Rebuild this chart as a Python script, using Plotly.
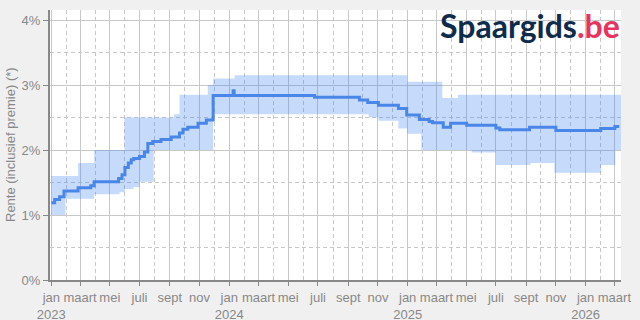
import plotly.graph_objects as go

# ---- data ----
line_dates = ["2023-01-01", "2023-01-08", "2023-01-18", "2023-01-27", "2023-02-25", "2023-03-23",
              "2023-03-30", "2023-05-19", "2023-05-26", "2023-06-01", "2023-06-08", "2023-06-14",
              "2023-06-19", "2023-07-01", "2023-07-11", "2023-07-18", "2023-07-28", "2023-08-14",
              "2023-09-04", "2023-09-21", "2023-09-28", "2023-10-08", "2023-10-29", "2023-11-15",
              "2023-11-29", "2024-01-09", "2024-01-11", "2024-06-24", "2024-09-24", "2024-10-11",
              "2024-11-02", "2024-12-13", "2024-12-30", "2025-01-25", "2025-02-14", "2025-02-21",
              "2025-03-15", "2025-03-30", "2025-05-02", "2025-07-01", "2025-07-09", "2025-09-08",
              "2025-11-01", "2026-02-01", "2026-03-02", "2026-03-11"]
line_vals = [1.19, 1.24, 1.28, 1.37, 1.42, 1.45,
             1.51, 1.56, 1.62, 1.73, 1.80, 1.85,
             1.87, 1.90, 1.97, 2.10, 2.13, 2.16,
             2.20, 2.26, 2.32, 2.35, 2.41, 2.46,
             2.84, 2.91, 2.84, 2.81, 2.77, 2.73,
             2.69, 2.64, 2.54, 2.47, 2.44, 2.42,
             2.35, 2.41, 2.38, 2.34, 2.31, 2.35,
             2.30, 2.33, 2.36, 2.36]

upper_dates = ["2023-01-01", "2023-02-25", "2023-03-30", "2023-05-31", "2023-09-10", "2023-09-21",
               "2023-11-18", "2023-11-29", "2024-01-12", "2024-12-31", "2025-03-13", "2025-04-14",
               "2026-03-15"]
upper_vals = [1.6, 1.8, 2.0, 2.5, 2.55, 2.85, 3.0, 3.1, 3.15, 3.05, 2.8, 2.85, 2.85]

lower_dates = ["2023-01-01", "2023-01-30", "2023-03-30", "2023-05-21", "2023-06-01", "2023-06-19",
               "2023-07-01", "2023-07-30", "2023-11-29", "2024-10-13", "2024-11-02", "2024-12-13",
               "2024-12-31", "2025-01-29", "2025-05-12", "2025-07-01", "2025-09-10", "2025-10-29",
               "2026-02-02", "2026-03-03", "2026-03-15"]
lower_vals = [1.0, 1.25, 1.32, 1.35, 1.40, 1.43, 1.51, 2.0, 2.55, 2.5, 2.45, 2.33,
              2.25, 2.0, 1.96, 1.77, 1.8, 1.65, 1.77, 2.0, 2.0]

x_tickvals = ["2023-01-01", "2023-03-01", "2023-05-01", "2023-07-01", "2023-09-01", "2023-11-01",
              "2024-01-01", "2024-03-01", "2024-05-01", "2024-07-01", "2024-09-01", "2024-11-01",
              "2025-01-01", "2025-03-01", "2025-05-01", "2025-07-01", "2025-09-01", "2025-11-01",
              "2026-01-01", "2026-03-01"]
x_ticktext = ["jan<br>2023", "maart", "mei", "juli", "sept", "nov",
              "jan<br>2024", "maart", "mei", "juli", "sept", "nov",
              "jan<br>2025", "maart", "mei", "juli", "sept", "nov",
              "jan<br>2026", "maart"]
y_tickvals = [0, 1, 2, 3, 4]
y_ticktext = ["0%", "1%", "2%", "3%", "4%"]

y_title = "Rente (inclusief premie) (*)"

GRAY = "#888888"
GRID = "#c8c8c8"
FONT = "Liberation Sans, Arial, sans-serif"

fig = go.Figure()
fig.add_trace(go.Scatter(x=lower_dates, y=lower_vals, mode="lines", line=dict(width=0, shape="hv"),
                         hoverinfo="skip", showlegend=False))
fig.add_trace(go.Scatter(x=upper_dates, y=upper_vals, mode="lines", line=dict(width=0, shape="hv"),
                         fill="tonexty", fillcolor="rgba(66,133,244,0.30)", hoverinfo="skip",
                         showlegend=False))
fig.add_trace(go.Scatter(x=line_dates, y=line_vals, mode="lines",
                         line=dict(color="#4a86e8", width=3, shape="hv"), showlegend=False))

fig.update_layout(
    width=640, height=320,
    margin=dict(l=50, r=19, t=10, b=40, autoexpand=False),
    paper_bgcolor="#f0f0f0", plot_bgcolor="#ffffff",
    font=dict(family=FONT, size=13, color=GRAY),
    showlegend=False,
)
fig.update_xaxes(
    type="date", range=["2022-12-29 08:00", "2026-03-14 14:00"],
    tickmode="array", tickvals=x_tickvals, ticktext=x_ticktext, tickangle=0,
    automargin=False,
    showgrid=True, gridcolor=GRID, gridwidth=1,
    showline=True, linecolor=GRAY, linewidth=2,
    ticks="outside", ticklen=4, tickcolor=GRAY, tickwidth=1,
    tickfont=dict(size=13, color=GRAY),
    minor=dict(tick0="2023-02-01", dtick="M2", showgrid=True, gridcolor=GRID,
               griddash="4px,3px", gridwidth=1, ticks=""),
    zeroline=False,
)
fig.update_yaxes(
    range=[0, 4.154], tickmode="array", tickvals=y_tickvals, ticktext=y_ticktext,
    automargin=False,
    showgrid=True, gridcolor=GRID, gridwidth=1,
    showline=True, linecolor=GRAY, linewidth=2,
    ticks="outside", ticklen=5, tickcolor=GRAY, tickwidth=1,
    tickfont=dict(size=13, color=GRAY),
    minor=dict(tick0=0.5, dtick=1, showgrid=True, gridcolor=GRID,
               griddash="4px,3px", gridwidth=1, ticks=""),
    zeroline=False,
)
fig.add_annotation(
    text=y_title, textangle=-90, xref="paper", yref="paper",
    x=(10 - 50) / 571, y=0.5, xanchor="center", yanchor="middle",
    showarrow=False, font=dict(size=13, color=GRAY, family=FONT),
)
fig.add_annotation(
    text='<b><span style="color:#0f2b4c">Spaargids</span><span style="color:#e8335f">.be</span></b>',
    xref="paper", yref="paper", x=(622 - 50) / 571, y=1.0, xanchor="right", yanchor="top",
    yshift=6, showarrow=False, font=dict(size=32, family="Lato, Open Sans, sans-serif"),
)

fig.write_html("out.html")
